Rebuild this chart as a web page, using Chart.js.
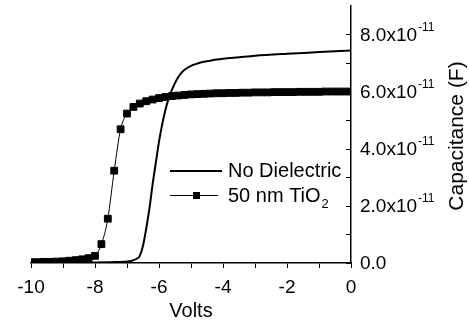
<!DOCTYPE html>
<html>
<head>
<meta charset="utf-8">
<script src="https://cdn.jsdelivr.net/npm/chart.js@4.4.0/dist/chart.umd.min.js"></script>
<style>
  body { margin: 0; background: #fff; }
  canvas { display: block; }
</style>
</head>
<body>
<canvas id="cv" width="469" height="325"></canvas>
<script>
// capacitance values are in units of 1e-11 F
const ndVolts = [-10, -9, -8, -7.5, -7, -6.85, -6.7, -6.6, -6.5, -6.4, -6.3, -6.2, -6.1, -6.0, -5.9, -5.8, -5.7,
  -5.6, -5.5, -5.4, -5.3, -5.2, -5.0, -4.8, -4.6, -4.4, -4.2, -4.0, -3.5, -3.0, -2.0, -1.0, 0];
const ndCap = [0, 0.01, 0.02, 0.03, 0.05, 0.08, 0.15, 0.25, 0.6, 1.2, 1.9, 2.75, 3.5, 4.25, 4.85, 5.35, 5.75,
  6.05, 6.3, 6.5, 6.65, 6.76, 6.9, 6.98, 7.04, 7.08, 7.12, 7.15, 7.2, 7.25, 7.32, 7.38, 7.44];

const tiVolts = [-10, -9.8, -9.6, -9.4, -9.2, -9.0, -8.8, -8.6, -8.4, -8.2, -8.0, -7.8, -7.6, -7.4, -7.2, -7.0,
  -6.8, -6.6, -6.4, -6.2, -6.0, -5.8, -5.6, -5.4, -5.2, -5.0, -4.8, -4.6, -4.4, -4.2, -4.0, -3.8, -3.6, -3.4,
  -3.2, -3.0, -2.8, -2.6, -2.4, -2.2, -2.0, -1.8, -1.6, -1.4, -1.2, -1.0, -0.8, -0.6, -0.4, -0.2, 0];
const tiCap = [0.03, 0.03, 0.04, 0.04, 0.05, 0.06, 0.08, 0.1, 0.13, 0.17, 0.25, 0.66, 1.55, 3.23, 4.68, 5.23,
  5.46, 5.58, 5.66, 5.72, 5.77, 5.81, 5.84, 5.86, 5.88, 5.9, 5.91, 5.92, 5.93, 5.94, 5.94, 5.95, 5.95, 5.96,
  5.96, 5.97, 5.97, 5.97, 5.98, 5.98, 5.98, 5.98, 5.99, 5.99, 5.99, 5.99, 6.0, 6.0, 6.0, 6.0, 6.0];

const xLabelTicks = [-10, -8, -6, -4, -2, 0];
const yTicks = [0, 2, 4, 6, 8];
const yTickText = ['0.0', '2.0x10', '4.0x10', '6.0x10', '8.0x10'];
const yTickExp = ['', '-11', '-11', '-11', '-11'];
const seriesNames = ['No Dielectric', '50 nm TiO'];

const FONT = '"Liberation Sans", Arial, sans-serif';

const rightAxis = {
  id: 'rightAxis',
  afterDraw(chart) {
    const ctx = chart.ctx;
    const ys = chart.scales.y;
    const x0 = ys.left;
    ctx.save();
    ctx.strokeStyle = '#000';
    ctx.lineWidth = 1;
    for (let v = 0; v <= 8; v++) {
      const py = Math.round(ys.getPixelForValue(v)) + 0.5;
      ctx.beginPath();
      ctx.moveTo(x0, py);
      ctx.lineTo(x0 - 5, py);
      ctx.stroke();
    }
    ctx.fillStyle = '#000';
    ctx.textBaseline = 'middle';
    ctx.textAlign = 'left';
    yTicks.forEach((v, i) => {
      const py = ys.getPixelForValue(v);
      ctx.font = '19px ' + FONT;
      ctx.fillText(yTickText[i], 360, py + 1);
      const w = ctx.measureText(yTickText[i]).width;
      if (yTickExp[i]) {
        ctx.font = '12px ' + FONT;
        ctx.fillText(yTickExp[i], 360 + w + 1, py - 7);
      }
    });
    // axis title, reads bottom to top
    ctx.translate(457, 136);
    ctx.rotate(-Math.PI / 2);
    ctx.textAlign = 'center';
    ctx.font = '21px ' + FONT;
    ctx.fillText('Capacitance (F)', 0, 0);
    ctx.restore();
  }
};

const legendBox = {
  id: 'legendBox',
  afterDraw(chart) {
    const ctx = chart.ctx;
    ctx.save();
    ctx.strokeStyle = '#000';
    ctx.fillStyle = '#000';
    ctx.lineWidth = 2;
    ctx.beginPath();
    ctx.moveTo(170, 171);
    ctx.lineTo(222, 171);
    ctx.stroke();
    ctx.lineWidth = 1;
    ctx.beginPath();
    ctx.moveTo(170, 195.5);
    ctx.lineTo(218, 195.5);
    ctx.stroke();
    ctx.fillRect(193, 192, 7, 7);
    ctx.font = '20px ' + FONT;
    ctx.textBaseline = 'alphabetic';
    ctx.textAlign = 'left';
    ctx.fillText(seriesNames[0], 228, 177);
    ctx.fillText(seriesNames[1], 228, 202);
    const w = ctx.measureText(seriesNames[1]).width;
    ctx.font = '13px ' + FONT;
    ctx.fillText('2', 228 + w + 1, 208);
    ctx.restore();
  }
};

new Chart(document.getElementById('cv'), {
  type: 'line',
  data: {
    datasets: [
      {
        label: seriesNames[0],
        data: ndVolts.map((v, i) => ({ x: v, y: ndCap[i] })),
        borderColor: '#000',
        borderWidth: 2,
        pointRadius: 0,
        cubicInterpolationMode: 'monotone',
        fill: false
      },
      {
        label: seriesNames[1] + '2',
        data: tiVolts.map((v, i) => ({ x: v, y: tiCap[i] })),
        borderColor: '#000',
        backgroundColor: '#000',
        borderWidth: 1,
        pointStyle: 'rect',
        pointRadius: 4.8,
        pointBorderWidth: 1,
        pointBackgroundColor: '#000',
        pointBorderColor: '#000',
        cubicInterpolationMode: 'monotone',
        fill: false
      }
    ]
  },
  options: {
    responsive: false,
    animation: false,
    devicePixelRatio: 1,
    layout: { padding: { left: 31, top: 5, right: 0, bottom: 0 } },
    plugins: { legend: { display: false }, tooltip: { enabled: false } },
    scales: {
      x: {
        type: 'linear',
        min: -10,
        max: 0,
        afterFit(s) { s.height = 62; },
        ticks: {
          stepSize: 1,
          color: '#000',
          font: { family: FONT, size: 19 },
          padding: 8,
          maxRotation: 0,
          callback: (v) => xLabelTicks.includes(v) ? String(v) : ''
        },
        grid: { drawOnChartArea: false, drawTicks: true, tickLength: 5, color: '#000', lineWidth: 1 },
        border: { display: true, color: '#000', width: 1.5 },
        title: { display: true, text: 'Volts', color: '#000', font: { family: FONT, size: 20 }, padding: { top: 0, bottom: 2 } }
      },
      y: {
        type: 'linear',
        position: 'right',
        min: 0,
        max: 9,
        afterFit(s) { s.width = 118; },
        ticks: { display: false, stepSize: 1 },
        grid: { display: true, drawOnChartArea: false, drawTicks: false },
        border: { display: true, color: '#000', width: 1.5 }
      }
    }
  },
  plugins: [rightAxis, legendBox]
});
</script>
</body>
</html>
